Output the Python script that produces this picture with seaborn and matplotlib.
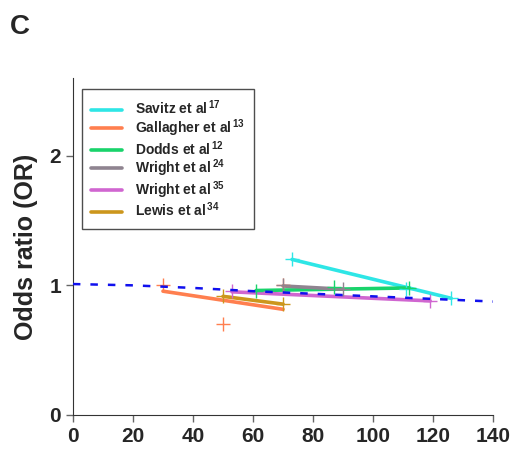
import pandas as pd
import matplotlib
matplotlib.use("Agg")
import matplotlib.pyplot as plt
import seaborn as sns

# study labels and colours
studies = ["Savitz et al", "Gallagher et al", "Dodds et al", "Wright et al", "Wright et al", "Lewis et al"]
refs = ["17", "13", "12", "24", "35", "34"]
colors = ["#2ee6e6", "#ff7f4f", "#19d36b", "#8f8490", "#d066d0", "#cc961c"]

# fitted line per study (x = exposure, y = OR)
line_x = [[73, 126], [30, 70], [61, 112], [70, 90], [53, 119], [50, 70]]
line_y = [[1.20, 0.90], [0.955, 0.815], [0.96, 0.98], [0.995, 0.97], [0.95, 0.88], [0.915, 0.855]]

# data points (plus markers)
pt_x = [[73, 111, 126], [30, 50, 70], [61, 87, 112], [70, 90], [53, 119], [50, 70]]
pt_y = [[1.20, 0.97, 0.90], [1.0, 0.70, 1.0], [0.96, 0.99, 0.98], [1.0, 0.97], [0.96, 0.88], [0.915, 0.855]]

# pooled trend (dashed)
trend_x = [0, 20, 40, 60, 80, 100, 120, 140]
trend_y = [1.01, 1.0, 0.98, 0.955, 0.935, 0.915, 0.895, 0.875]

sns.set_style("ticks")
plt.rcParams['font.family'] = ['Liberation Sans', 'DejaVu Sans']
plt.rcParams['mathtext.fontset'] = 'custom'
plt.rcParams['mathtext.bf'] = 'Liberation Sans:bold'

fig = plt.figure(figsize=(5.17, 4.51), dpi=100)
ax = fig.add_axes([0.141, 0.080, 0.813, 0.747])

sns.lineplot(x=trend_x, y=trend_y, ax=ax, color="#1010ee", lw=1.8,
             linestyle=(0, (3, 4)), zorder=5)

for i in range(len(studies)):
    lab = studies[i] + r"$^{\,\mathbf{" + refs[i] + "}}$"
    sns.lineplot(x=line_x[i], y=line_y[i], ax=ax, color=colors[i], lw=2.6,
                 label=lab, zorder=3)
    ax.plot(pt_x[i], pt_y[i], "+", color=colors[i], ms=10, mew=1, zorder=4)

ax.set_xlim(0, 140)
ax.set_ylim(0, 2.6)
ax.set_xticks(range(0, 141, 20))
ax.set_yticks([0, 1, 2])
ax.tick_params(labelsize=15, length=5, width=1, color="#666666")
for t in ax.get_xticklabels() + ax.get_yticklabels():
    t.set_fontweight("bold")
sns.despine(ax=ax)
ax.spines["left"].set_color("#333333")
ax.spines["bottom"].set_color("#333333")
ax.set_ylabel("Odds ratio (OR)", fontsize=18, fontweight="bold", labelpad=8)

leg = ax.legend(loc="upper left", bbox_to_anchor=(0.021, 0.967), borderaxespad=0,
                frameon=True, fancybox=False, edgecolor="#222222",
                handlelength=2.2, handletextpad=0.9,
                prop={"weight": "bold", "size": 10}, labelspacing=0.0,
                borderpad=0.7)
leg.get_frame().set_linewidth(1)

fig.text(0.02, 0.925, "C", fontsize=20, fontweight="bold")

fig.savefig("out.png", dpi=100)
